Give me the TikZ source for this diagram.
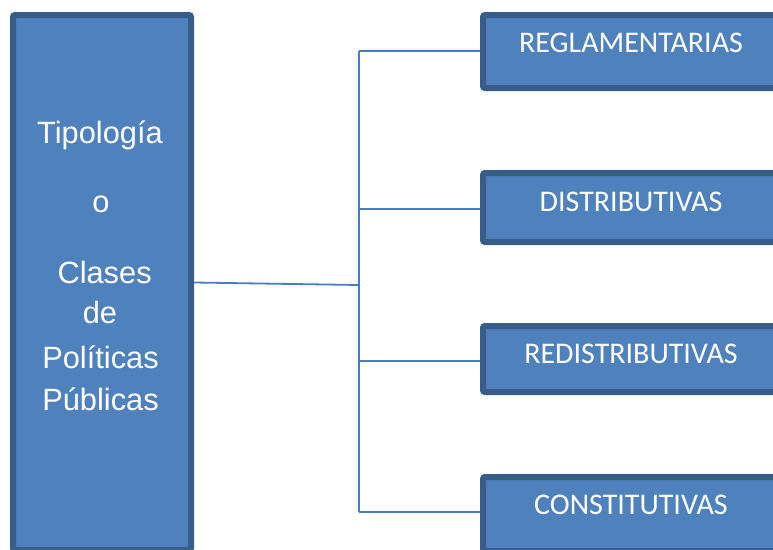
\documentclass[tikz,border=0pt]{standalone}
\usepackage{fontspec}
\setmainfont{Liberation Sans}
\newfontfamily\calib{Carlito}
\definecolor{boxfill}{HTML}{4F81BD}
\definecolor{boxedge}{HTML}{385D8A}
\definecolor{linkcol}{HTML}{4A7EBB}
\begin{document}
\begin{tikzpicture}[x=1pt,y=-1pt,
  blockbox/.style={draw=boxedge,fill=boxfill,line width=6pt,rounded corners=2pt,inner sep=0pt,minimum width=#1},
  lefttxt/.style={text=white,inner sep=0pt,anchor=base,font=\fontsize{30.8}{36}\selectfont},
  righttxt/.style={text=white,inner sep=0pt,anchor=base,font=\calib\fontsize{30}{36}\selectfont},
  link/.style={draw=linkcol,line width=1.8pt}]
\useasboundingbox (0,0) rectangle (773,549);
\clip (0,0) rectangle (773,549);
% left box
\node[blockbox=178pt,minimum height=535pt] (L) at (102,282.5) {};
\node[lefttxt] (l1) at (100,143) {Tipología};
\node[lefttxt] (l2) at (101,212) {o};
\node[lefttxt] (l3) at (104.6,283) {Clases};
\node[lefttxt] (l4) at (100,323) {de};
\node[lefttxt] (l5) at (100.5,368) {Políticas};
\node[lefttxt] (l6) at (100.5,410) {Públicas};
% right boxes
\node[blockbox=299pt,minimum height=73pt] (r1) at (632.5,51.5) {};
\node[blockbox=299pt,minimum height=69pt] (r2) at (632.5,207.5) {};
\node[blockbox=299pt,minimum height=66pt] (r3) at (632.5,359) {};
\node[blockbox=299pt,minimum height=74pt] (r4) at (632.5,514) {};
\node[righttxt] (t1) at (631,52) {REGLAMENTARIAS};
\node[righttxt] (t2) at (631,211) {DISTRIBUTIVAS};
\node[righttxt] (t3) at (631,363) {REDISTRIBUTIVAS};
\node[righttxt] (t4) at (631,514) {CONSTITUTIVAS};
% connectors
\coordinate (j) at (359,285);
\coordinate (jt) at (359,51);
\coordinate (jb) at (359,512);
\draw[link] (L.east) -- (j);
\draw[link] (jt) -- (jb);
\draw[link] (jt) -- (r1.west |- jt);
\draw[link] (j |- 0,209) -- (r2.west |- 0,209);
\draw[link] (j |- 0,361) -- (r3.west |- 0,361);
\draw[link] (jb) -- (r4.west |- jb);
\end{tikzpicture}
\end{document}
